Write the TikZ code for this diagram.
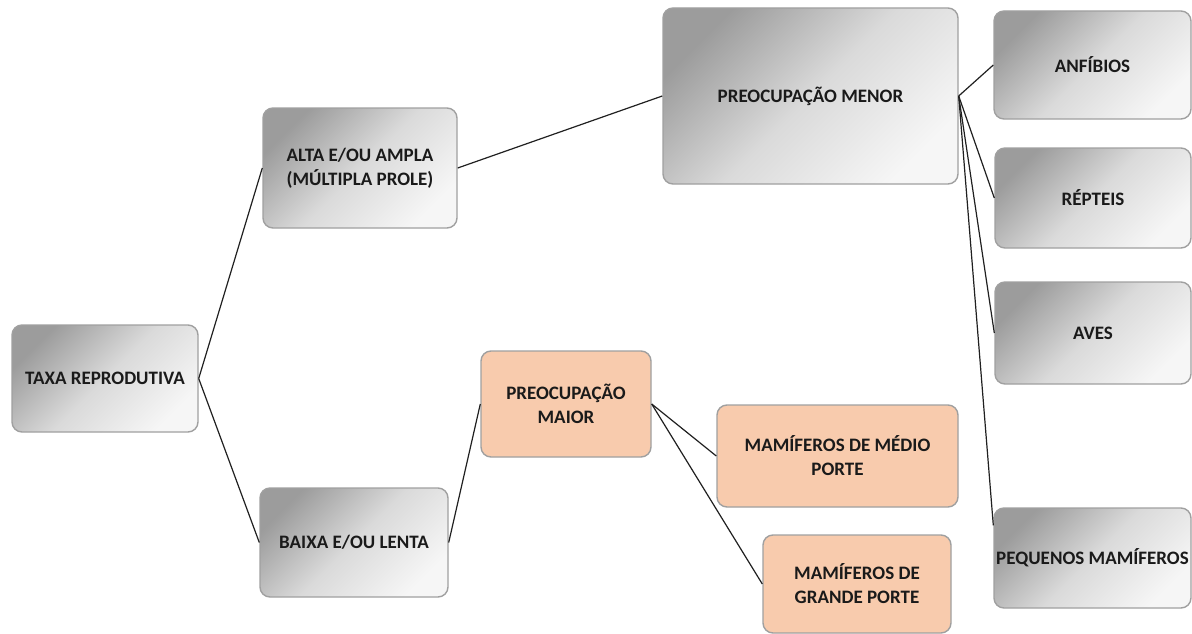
\documentclass[tikz,border=0pt]{standalone}
\usepackage{fontspec}
\setmainfont{Carlito}
\definecolor{boxborder}{HTML}{A0A0A0}
\definecolor{graydark}{HTML}{9C9C9C}
\definecolor{graymid}{HTML}{DADADA}
\definecolor{graylight}{HTML}{F6F6F6}
\definecolor{orangefill}{HTML}{F8CBAD}
\definecolor{txt}{HTML}{1A1A1A}
\definecolor{linecol}{HTML}{202020}
\tikzset{
  basebox/.style={draw=boxborder, line width=1.4pt, rounded corners=10pt,
    align=center, inner sep=2pt, text=txt,
    font=\fontsize{19}{24}\selectfont\bfseries},
  graybox/.style={basebox, top color=graydark, bottom color=graylight,
    middle color=graymid, shading angle=45},
  orangebox/.style={basebox, fill=orangefill},
  conn/.style={draw=linecol, line width=1.2pt}
}
\begin{document}
\begin{tikzpicture}[x=1pt,y=-1pt]
\useasboundingbox[fill=white] (0,0) rectangle (1192,634);
\node[graybox, minimum width=186pt, minimum height=107pt] (taxa) at (105,378.5) {TAXA REPRODUTIVA};
\node[graybox, minimum width=194pt, minimum height=120pt] (alta) at (360,168) {ALTA E/OU AMPLA\\(MÚLTIPLA PROLE)};
\node[graybox, minimum width=188pt, minimum height=109pt] (baixa) at (354,542.5) {BAIXA E/OU LENTA};
\node[orangebox, minimum width=170pt, minimum height=106pt] (maior) at (566,404) {PREOCUPAÇÃO\\MAIOR};
\node[graybox, minimum width=295pt, minimum height=176pt] (menor) at (810.5,96) {PREOCUPAÇÃO MENOR};
\node[graybox, minimum width=197pt, minimum height=108pt] (anf) at (1092.5,65) {ANFÍBIOS};
\node[graybox, minimum width=196pt, minimum height=100pt] (rep) at (1093,198) {RÉPTEIS};
\node[graybox, minimum width=196pt, minimum height=102pt] (aves) at (1093,333) {AVES};
\node[graybox, minimum width=197pt, minimum height=100pt] (peq) at (1092.5,558) {PEQUENOS MAMÍFEROS};
\node[orangebox, minimum width=241pt, minimum height=102pt] (medio) at (837.5,456) {MAMÍFEROS DE MÉDIO\\PORTE};
\node[orangebox, minimum width=188pt, minimum height=98pt] (grande) at (857,584) {MAMÍFEROS DE\\GRANDE PORTE};
\draw[conn] (taxa.east) -- (alta.west);
\draw[conn] (taxa.east) -- (baixa.west);
\draw[conn] (alta.east) -- (menor.west);
\draw[conn] (baixa.east) -- (maior.west);
\draw[conn] (maior.east) -- (medio.west);
\draw[conn] (maior.east) -- (grande.west);
\draw[conn] (menor.east) -- (anf.west);
\draw[conn] (menor.east) -- (rep.west);
\draw[conn] (menor.east) -- (aves.west);
\draw[conn] (menor.east) -- ([yshift=-18pt]peq.north west);
\end{tikzpicture}
\end{document}
